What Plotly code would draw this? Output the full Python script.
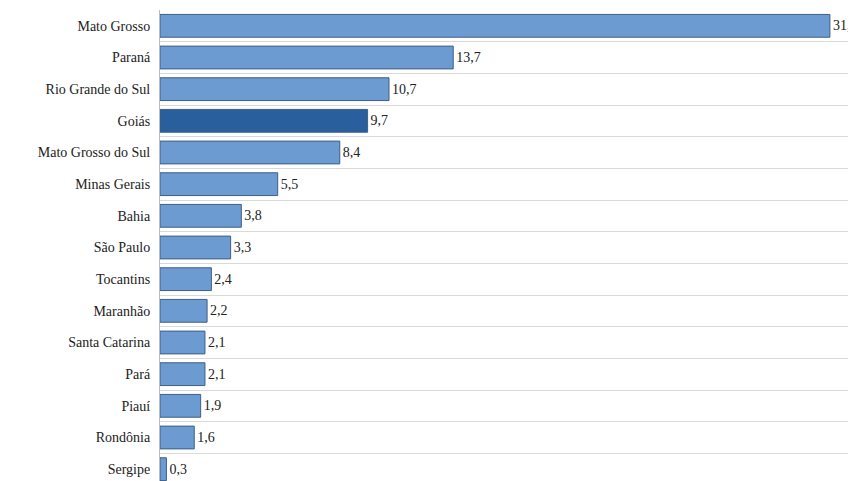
import plotly.graph_objects as go

estados = ['Mato Grosso', 'Paraná', 'Rio Grande do Sul', 'Goiás', 'Mato Grosso do Sul',
           'Minas Gerais', 'Bahia', 'São Paulo', 'Tocantins', 'Maranhão',
           'Santa Catarina', 'Pará', 'Piauí', 'Rondônia', 'Sergipe']
valores = [31.3, 13.7, 10.7, 9.7, 8.4, 5.5, 3.8, 3.3, 2.4, 2.2, 2.1, 2.1, 1.9, 1.6, 0.3]

pos = list(range(len(estados)))
cores = ['#2a5f9e' if e == 'Goiás' else '#6c9bd2' for e in estados]
rotulos = [f'{v:.1f}'.replace('.', ',') for v in valores]
fonte = 'Liberation Serif, Times New Roman, serif'

fig = go.Figure(go.Bar(
    x=valores, y=pos, orientation='h',
    marker=dict(color=cores, line=dict(color='#3d5f86', width=1)),
    width=0.72,
    text=rotulos, textposition='outside', cliponaxis=False,
    textfont=dict(family=fonte, size=14, color='#222'),
))

fig.update_layout(
    width=856, height=481,
    margin=dict(l=152, r=2, t=2, b=4, autoexpand=False),
    plot_bgcolor='white', paper_bgcolor='white',
    font=dict(family=fonte, size=14, color='#222'),
    showlegend=False,
)
fig.update_xaxes(range=[0, 32.8], visible=False, automargin=False)
fig.update_yaxes(
    tickvals=pos, ticktext=estados, autorange=False, range=[14.5, -0.5],
    showgrid=False, showline=True, linecolor='#bbb', ticks='', automargin=False,
    tickfont=dict(family=fonte, size=14, color='#222'),
    minor=dict(tickvals=[p + 0.5 for p in pos[:-1]], showgrid=True, gridcolor='#d9d9d9'),
    ticklabelstandoff=6,
)

fig.write_html('out.html')
